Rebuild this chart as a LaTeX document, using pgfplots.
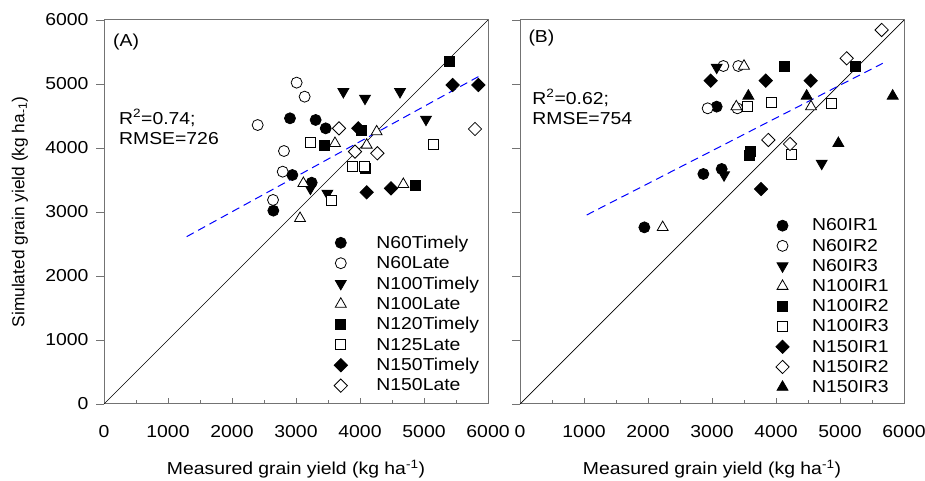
\documentclass[border=0pt]{standalone}
\usepackage{fontspec}
\setmainfont{Liberation Sans}[FakeStretch=1.12]
\newfontfamily\plainfont{Liberation Sans}
\usepackage{pgfplots}
\pgfplotsset{compat=1.18}
\definecolor{axgray}{RGB}{115,115,115}
\newcommand{\fs}{\fontsize{17.3}{20.3}\selectfont}
\pgfplotsset{
  myaxis/.style={
    scale only axis, width=384pt, height=384pt,
    xmin=0, xmax=6000, ymin=0, ymax=6000,
    xtick={0,1000,...,6000}, ytick=\empty,
    extra y ticks={0,1000,...,6000},
    extra tick style={tick align=outside, major tick length=8pt},
    minor xtick={500,1500,...,5500},
    minor ytick={500,1500,...,5500},
    tick pos=left, tick align=inside,
    major tick length=6pt, minor tick length=4pt,
    axis line style={axgray, line width=1pt},
    tick style={axgray, line width=0.8pt},
    scaled ticks=false,
    /pgf/number format/assume math mode=true,
    /pgf/number format/set thousands separator={},
    tick label style={font=\fs},
    xticklabel style={yshift=-18pt},
    yticklabel style={xshift=-4pt},
    xlabel style={at={(axis description cs:0.5,-0.169)}, anchor=center, font=\fs},
    ylabel style={at={(axis description cs:-0.219,0.5)}, anchor=center, font=\plainfont\fs},
    legend cell align=left,
    legend style={draw=none, fill=none, font=\fs, row sep=2.6pt},
    clip=false,
  },
  fc/.style={only marks, mark=*, mark size=5.5pt, mark options={fill=black, draw=black, line width=0.8pt}},
  oc/.style={only marks, mark=*, mark size=5.5pt, mark options={fill=white, draw=black, line width=0.8pt}},
  dt/.style={only marks, mark=triangle*, mark size=6.3pt, mark options={rotate=180, fill=black, draw=black, line width=0.8pt}},
  ft/.style={only marks, mark=triangle*, mark size=6.3pt, mark options={fill=black, draw=black, line width=0.8pt}},
  ot/.style={only marks, mark=triangle*, mark size=6.3pt, mark options={fill=white, draw=black, line width=0.8pt}},
  fsq/.style={only marks, mark=square*, mark size=5pt, mark options={fill=black, draw=black, line width=0.8pt}},
  osq/.style={only marks, mark=square*, mark size=5pt, mark options={fill=white, draw=black, line width=0.8pt}},
  fd/.style={only marks, mark=square*, mark size=4.7pt, mark options={rotate=45, fill=black, draw=black, line width=0.8pt}},
  od/.style={only marks, mark=square*, mark size=4.7pt, mark options={rotate=45, fill=white, draw=black, line width=0.8pt}},
}
\begin{document}
\begin{tikzpicture}
\path[use as bounding box] (0,0) rectangle (925pt,481pt);
% Panel A
\begin{axis}[myaxis, at={(104pt,77pt)}, anchor=south west,
  xlabel={Measured grain yield (kg ha\textsuperscript{-1})},
  ylabel={Simulated grain yield (kg ha\textsubscript{-1})},
  legend style={at={(axis description cs:0.591,0.449)}, anchor=north west,
    /tikz/every odd column/.append style={column sep=27pt}}]
\addplot[black, line width=0.7pt, forget plot] coordinates {(0,0) (6000,6000)};
\addplot[blue, dash pattern=on 8pt off 5pt, line width=1pt, forget plot] coordinates {(1292,2615) (5849,5115)};
\addplot[fc] coordinates {(2906,4464) (3307,4438) (3464,4307) (2943,3578) (3245,3458) (2646,3021)};
\addlegendentry{N60Timely}
\addplot[oc] coordinates {(3010,5021) (3135,4802) (2401,4359) (2812,3953) (2792,3630) (2641,3188)};
\addlegendentry{N60Late}
\addplot[dt] coordinates {(3740,4880) (4078,4776) (4625,4880) (5031,4448) (3490,3292) (3225,3370)};
\addlegendentry{N100Timely}
\addplot[ot] coordinates {(3609,4073) (4260,4255) (4104,4047) (3115,3448) (4677,3433) (3063,2901)};
\addlegendentry{N100Late}
\addplot[fsq] coordinates {(5396,5359) (3438,4047) (4026,4281) (4078,3682) (4859,3422)};
\addlegendentry{N120Timely}
\addplot[osq] coordinates {(3229,4083) (5146,4057) (3885,3708) (4068,3708) (3547,3188)};
\addlegendentry{N125Late}
\addplot[fd] coordinates {(5448,4984) (5849,4984) (3974,4307) (4104,3307) (4484,3370)};
\addlegendentry{N150Timely}
\addplot[od] coordinates {(3672,4307) (3922,3943) (4271,3917) (5797,4297)};
\addlegendentry{N150Late}
\node[anchor=west, inner sep=0pt, font=\fs] at (axis cs:140,5656) {(A)};
\node[anchor=west, inner sep=0pt, align=left, font=\fs] at (axis cs:234,4328) {R\textsuperscript{2}=0.74;\\RMSE=726};
\end{axis}
% Panel B
\begin{axis}[myaxis, at={(520pt,77pt)}, anchor=south west,
  extra y tick labels={},
  xlabel={Measured grain yield (kg ha\textsuperscript{-1})},
  legend style={at={(axis description cs:0.658,0.493)}, anchor=north west,
    /tikz/every odd column/.append style={column sep=21pt}}]
\addplot[black, line width=0.7pt, forget plot] coordinates {(0,0) (6000,6000)};
\addplot[blue, dash pattern=on 8pt off 5pt, line width=1pt, forget plot] coordinates {(1042,2953) (5667,5323)};
\addplot[fc] coordinates {(1943,2760) (2865,3594) (3151,3672) (3073,4646)};
\addlegendentry{N60IR1}
\addplot[oc] coordinates {(3177,5281) (3411,5281) (2932,4620) (3396,4620)};
\addlegendentry{N60IR2}
\addplot[dt] coordinates {(3073,5260) (3188,3578) (4714,3760)};
\addlegendentry{N60IR3}
\addplot[ot] coordinates {(3500,5281) (3380,4646) (4547,4646) (2229,2760)};
\addlegendentry{N100IR1}
\addplot[fsq] coordinates {(4125,5271) (5234,5271) (3594,3943) (3583,3880)};
\addlegendentry{N100IR2}
\addplot[osq] coordinates {(3557,4646) (3922,4708) (4859,4698) (4245,3901)};
\addlegendentry{N100IR3}
\addplot[fd] coordinates {(2979,5052) (3839,5052) (4542,5052) (3766,3359)};
\addlegendentry{N150IR1}
\addplot[od] coordinates {(5651,5844) (5104,5401) (3880,4125) (4219,4063)};
\addlegendentry{N150IR2}
\addplot[ft] coordinates {(3568,4813) (4479,4813) (5823,4813) (4974,4073)};
\addlegendentry{N150IR3}
\node[anchor=west, inner sep=0pt, font=\fs] at (axis cs:130,5714) {(B)};
\node[anchor=west, inner sep=0pt, align=left, font=\fs] at (axis cs:192,4640) {R\textsuperscript{2}=0.62;\\RMSE=754};
\end{axis}
\end{tikzpicture}
\end{document}
